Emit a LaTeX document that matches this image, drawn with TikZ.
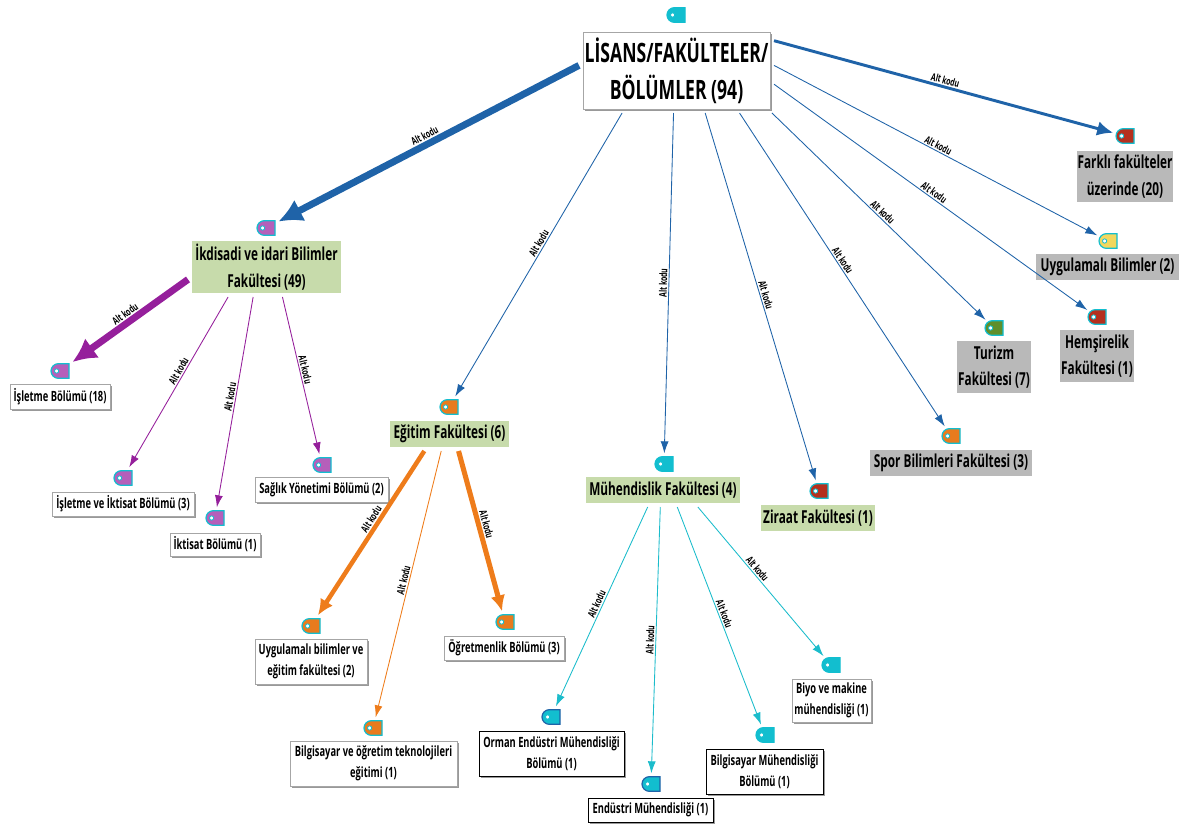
\documentclass[tikz,border=0pt]{standalone}
\usepackage{fontspec}
\setmainfont[FakeStretch=0.66]{Open Sans}
\usetikzlibrary{arrows.meta,shadows,shapes.misc}
\definecolor{lineblue}{HTML}{1F63A8}
\definecolor{linepurple}{HTML}{951F9B}
\definecolor{lineorange}{HTML}{EE7C1B}
\definecolor{linecyan}{HTML}{1BBCCB}
\definecolor{tagcyan}{HTML}{12BECF}
\definecolor{tagpurple}{HTML}{B55FBA}
\definecolor{tagorange}{HTML}{E87B1E}
\definecolor{tagred}{HTML}{B5301E}
\definecolor{tagyellow}{HTML}{F2D75E}
\definecolor{taggreen}{HTML}{5F8F2B}
\definecolor{boxgreen}{HTML}{C7DBAB}
\definecolor{boxgray}{HTML}{B9B9B9}
\tikzset{
	basebox/.style 2 args={align=center,inner sep=0pt,outer sep=3pt,text=black,font=\bfseries\fontsize{#1}{#2}\selectfont},
	boxsize/.style 2 args={minimum width=#1*0.75pt,minimum height=#2*0.75pt},
	whitebox/.style={basebox={10.6}{16},fill=white,draw=gray!70,line width=.7pt,drop shadow={shadow xshift=1.5pt,shadow yshift=-1.5pt,fill=gray!80,opacity=1}},
	blackbox/.style={whitebox,draw=black},
	greenbox/.style={basebox={13.4}{20},fill=boxgreen},
	graybox/.style={basebox={13.4}{20},fill=boxgray},
	tagicon/.style 2 args={rounded rectangle,rounded rectangle right arc=none,minimum width=13.5pt,minimum height=11pt,inner sep=0pt,outer sep=2.5pt,fill=#1,draw=#2,line width=.9pt,
		path picture={\fill[white,draw=tagcyan,line width=.6pt] ([xshift=4.2pt]path picture bounding box.west) circle (1.6pt);}},
	link/.style={-{Latex[length=9pt,width=6pt]},line width=.65pt},
	midlink/.style={-{Latex[length=12pt,width=11pt]},line width=2.2pt},
	heavylink/.style={-{Latex[length=18pt,width=18pt]},line width=5.2pt},
	altkodu/.style={sloped,above,inner sep=1pt,text=black,font=\bfseries\fontsize{7.8}{8}\selectfont},
}
\begin{document}
\begin{tikzpicture}[x=0.75pt,y=-0.75pt]
	\useasboundingbox (0,0) rectangle (1185,828);
	% boxes
	\node (lisans) [whitebox,basebox={20}{28},boxsize={187}{77}] at (676.5,70.5) {LİSANS/FAKÜLTELER/\\BÖLÜMLER (94)};
	\node (ikdisadi) [greenbox,boxsize={149}{52}] at (266.5,267) {İkdisadi ve idari Bilimler\\Fakültesi (49)};
	\node (egitim) [greenbox,boxsize={119}{26}] at (449.5,434) {Eğitim Fakültesi (6)};
	\node (muhendislik) [greenbox,boxsize={154}{26}] at (663,490) {Mühendislik Fakültesi (4)};
	\node (ziraat) [greenbox,boxsize={114}{26}] at (818,518) {Ziraat Fakültesi (1)};
	\node (spor) [graybox,boxsize={162}{26}] at (951,463) {Spor Bilimleri Fakültesi (3)};
	\node (turizm) [graybox,boxsize={74}{52}] at (994,367) {Turizm\\Fakültesi (7)};
	\node (hemsirelik) [graybox,boxsize={74}{52}] at (1097,356) {Hemşirelik\\Fakültesi (1)};
	\node (uygulamali) [graybox,boxsize={143}{26}] at (1107.5,267) {Uygulamalı Bilimler (2)};
	\node (farkli) [graybox,boxsize={96}{51}] at (1125,176.5) {Farklı fakülteler\\üzerinde (20)};
	\node (isletme) [whitebox,boxsize={100}{25}] at (60,396.5) {İşletme Bölümü (18)};
	\node (isiktisat) [whitebox,boxsize={142}{24}] at (123,504) {İşletme ve İktisat Bölümü (3)};
	\node (iktisat) [whitebox,boxsize={90}{23}] at (215,544.5) {İktisat Bölümü (1)};
	\node (saglik) [whitebox,boxsize={133}{25}] at (321.5,489.5) {Sağlık Yönetimi Bölümü (2)};
	\node (uygegitim) [whitebox,boxsize={112}{45}] at (311,661.5) {Uygulamalı bilimler ve\\eğitim fakültesi (2)};
	\node (bilgogretim) [whitebox,boxsize={167}{45}] at (373.5,763.5) {Bilgisayar ve öğretim teknolojileri\\eğitimi (1)};
	\node (ogretmenlik) [whitebox,boxsize={120}{24}] at (504,648) {Öğretmenlik Bölümü (3)};
	\node (orman) [blackbox,boxsize={145}{45}] at (551.5,753.5) {Orman Endüstri Mühendisliği\\Bölümü (1)};
	\node (endustri) [blackbox,boxsize={125}{24}] at (650.5,810) {Endüstri Mühendisliği (1)};
	\node (bilgmuh) [blackbox,boxsize={117}{45}] at (764.5,771.5) {Bilgisayar Mühendisliği\\Bölümü (1)};
	\node (biyo) [whitebox,boxsize={79}{43}] at (831.5,700.5) {Biyo ve makine\\mühendisliği (1)};
	% tags
	\node (tagLisans) [tagicon={tagcyan}{tagcyan}] at (676,15) {};
	\node (tagIkdisadi) [tagicon={tagpurple}{tagcyan}] at (266,228) {};
	\node (tagEgitim) [tagicon={tagorange}{tagcyan}] at (449,407) {};
	\node (tagMuhendislik) [tagicon={tagcyan}{tagcyan}] at (664,464) {};
	\node (tagZiraat) [tagicon={tagred}{tagcyan}] at (819,491) {};
	\node (tagSpor) [tagicon={tagorange}{tagcyan}] at (951,436) {};
	\node (tagTurizm) [tagicon={taggreen}{tagcyan}] at (994,328) {};
	\node (tagHemsirelik) [tagicon={tagred}{tagcyan}] at (1097,317) {};
	\node (tagUygulamali) [tagicon={tagyellow}{tagcyan}] at (1108,241) {};
	\node (tagFarkli) [tagicon={tagred}{tagcyan}] at (1125,136) {};
	\node (tagIsletme) [tagicon={tagpurple}{tagcyan}] at (60,371) {};
	\node (tagIsiktisat) [tagicon={tagpurple}{tagcyan}] at (123,478) {};
	\node (tagIktisat) [tagicon={tagpurple}{tagcyan}] at (215,518) {};
	\node (tagSaglik) [tagicon={tagpurple}{tagcyan}] at (322,465) {};
	\node (tagUygegitim) [tagicon={tagorange}{tagcyan}] at (311,626) {};
	\node (tagBilgogretim) [tagicon={tagorange}{tagcyan}] at (373,728) {};
	\node (tagOgretmenlik) [tagicon={tagorange}{tagcyan}] at (505,622) {};
	\node (tagOrman) [tagicon={tagcyan}{lineblue}] at (551,717) {};
	\node (tagEndustri) [tagicon={tagcyan}{lineblue}] at (651,784) {};
	\node (tagBilgmuh) [tagicon={tagcyan}{tagcyan}] at (765,735) {};
	\node (tagBiyo) [tagicon={tagcyan}{tagcyan}] at (831,665) {};
	% connectors
	\draw [heavylink,lineblue] (lisans.177) -- node [altkodu] {Alt kodu} (tagIkdisadi);
	\draw [midlink,lineblue] (lisans.17) -- node [altkodu] {Alt kodu} (tagFarkli);
	\draw [link,lineblue] (lisans.3) -- node [altkodu] {Alt kodu} (tagUygulamali);
	\draw [link,lineblue] (lisans.-8) -- node [altkodu] {Alt kodu} (tagHemsirelik);
	\draw [link,lineblue] (lisans.-24) -- node [altkodu] {Alt kodu} (tagTurizm);
	\draw [link,lineblue] (lisans.-34) -- node [altkodu,pos=.48] {Alt kodu} (tagSpor);
	\draw [link,lineblue] (lisans.-56) -- node [altkodu] {Alt kodu} (tagZiraat);
	\draw [link,lineblue] (lisans.-94) -- node [altkodu] {Alt kodu} (tagMuhendislik);
	\draw [link,lineblue] (lisans.-142) -- node [altkodu,pos=.47] {Alt kodu} (tagEgitim);
	\draw [heavylink,linepurple] (ikdisadi.-171) -- node [altkodu] {Alt kodu} (tagIsletme);
	\draw [link,linepurple] (ikdisadi.-142) -- node [altkodu,pos=.45] {Alt kodu} (tagIsiktisat);
	\draw [link,linepurple] (ikdisadi.-114) -- node [altkodu,pos=.48] {Alt kodu} (tagIktisat);
	\draw [link,linepurple] (ikdisadi.-62) -- node [altkodu,pos=.47] {Alt kodu} (tagSaglik);
	\draw [midlink,lineorange,line width=3.4pt] (egitim.-146) -- node [altkodu,pos=.44] {Alt kodu} (tagUygegitim);
	\draw [link,lineorange] (egitim.-116) -- node [altkodu,pos=.49] {Alt kodu} (tagBilgogretim);
	\draw [midlink,lineorange,line width=3.8pt] (egitim.-62) -- node [altkodu,pos=.47] {Alt kodu} (tagOgretmenlik);
	\draw [link,linecyan] (muhendislik.-132) -- node [altkodu] {Alt kodu} (tagOrman);
	\draw [link,linecyan] (muhendislik.-99) -- node [altkodu] {Alt kodu} (tagEndustri);
	\draw [link,linecyan] (muhendislik.-50) -- node [altkodu] {Alt kodu} (tagBilgmuh);
	\draw [link,linecyan] (muhendislik.-26) -- node [altkodu,pos=.44] {Alt kodu} (tagBiyo);
\end{tikzpicture}
\end{document}
